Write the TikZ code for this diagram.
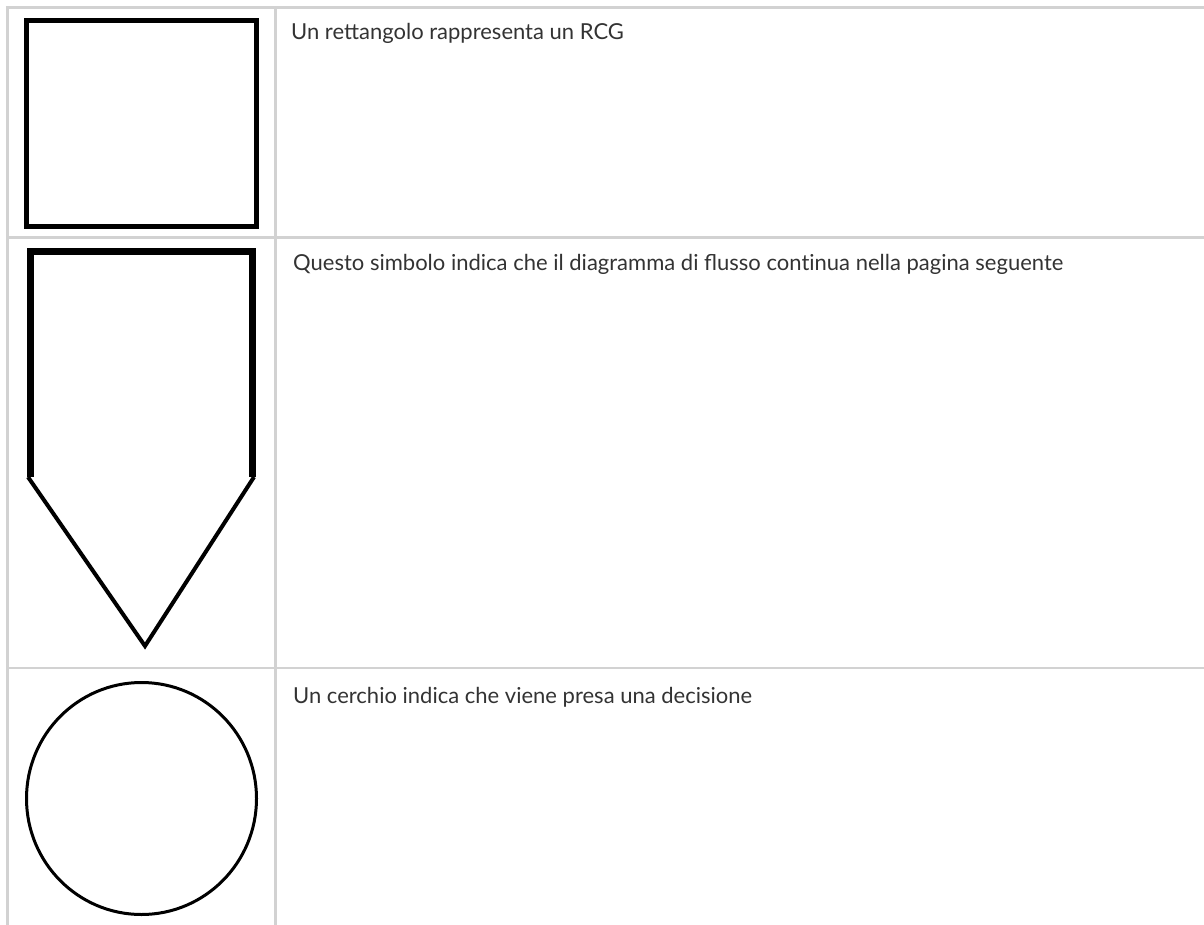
\documentclass[tikz,border=0pt]{standalone}
\usepackage{fontspec}
\setmainfont{Lato}
\usetikzlibrary{positioning,calc}
\definecolor{rulegray}{HTML}{D2D2D2}
\definecolor{textgray}{HTML}{333333}
\tikzset{
  tablerule/.style={draw=rulegray, line width=2.8pt},
  symbol/.style={draw=black, line join=miter},
  caption/.style={anchor=base west, text=textgray, inner sep=0pt,
    font=\fontsize{22}{26}\selectfont}
}

\begin{document}
\begin{tikzpicture}[x=1pt,y=-1pt]
  \useasboundingbox (0,0) rectangle (1204,925);
  % table rules
  \draw[tablerule] (5.9,7.3) -- (1204,7.3);
  \draw[tablerule] (7.3,7.3) -- (7.3,925);
  \draw[tablerule] (275.3,7.3) -- (275.3,925);
  \draw[tablerule] (7.3,237.3) -- (1204,237.3);
  \draw[tablerule] (7.3,668) -- (1204,668);
  % rectangle
  \draw[symbol, line width=4.6pt] (26.5,20.3) rectangle (256.5,226.5);
  % off-page connector
  \coordinate (P1) at (28,477);
  \coordinate (P2) at (30.3,477);
  \coordinate (P3) at (30.3,251.7);
  \coordinate (P4) at (252.5,251.7);
  \coordinate (P5) at (252.5,477);
  \coordinate (P6) at (254,477);
  \coordinate (tip) at (145,646);
  \draw[symbol, line width=7pt] (P2) -- (P3) -- (P4) -- (P5);
  \draw[symbol, line width=4pt] (P1) -- (tip) -- (P6);
  % decision
  \draw[symbol, line width=3pt] (141.5,798.5) ellipse [x radius=115, y radius=116];
  % texts
  \node[caption] (rcg) at (291,40) {Un rettangolo rappresenta un RCG};
  \node[caption] (page) at (293,271) {Questo simbolo indica che il diagramma di flusso cont\kern0pt inua nella pagina seguente};
  \node[caption] (decision) at (293,703) {Un cerchio indica che viene presa una decisione};
\end{tikzpicture}
\end{document}
